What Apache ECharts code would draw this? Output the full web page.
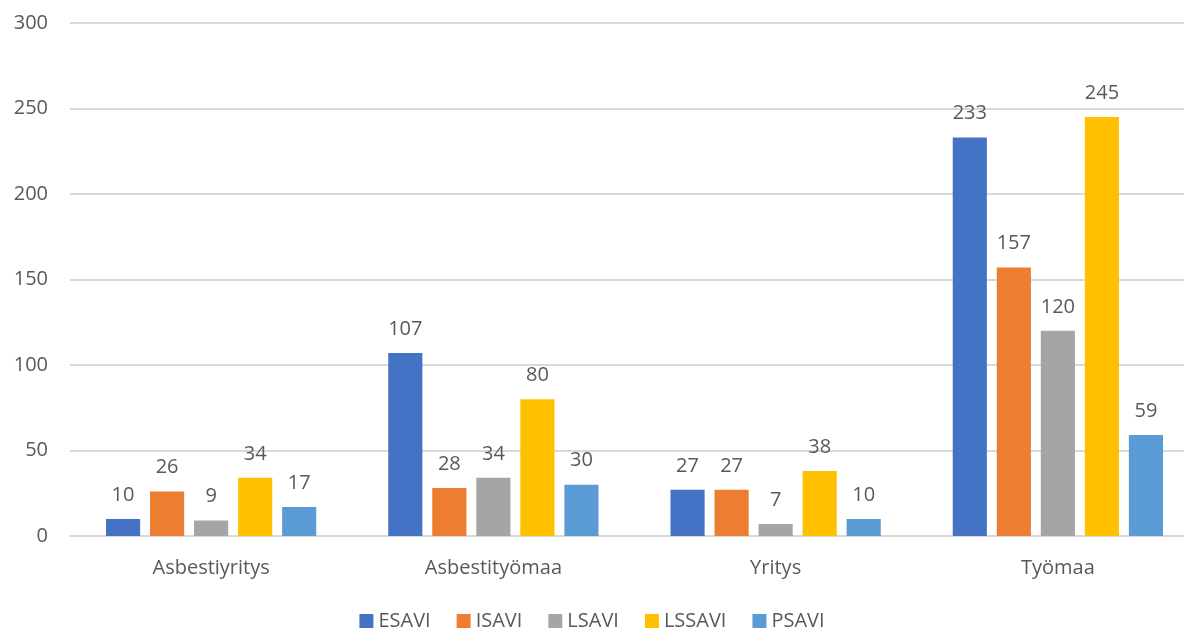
<!DOCTYPE html>
<html>
<head>
<meta charset="UTF-8">
<title>AVI chart</title>
<script src="https://cdn.jsdelivr.net/npm/echarts@6/dist/echarts.min.js"></script>
<style>
  html, body { margin: 0; padding: 0; background: #fff; }
</style>
</head>
<body>
    <div id="main" style="width: 1184px;height:631px;"></div>

    <script type="text/javascript">
        var categories = ['Asbestiyritys', 'Asbestityömaa', 'Yritys', 'Työmaa'];
        var esavi = [10, 107, 27, 233];
        var isavi = [26, 28, 27, 157];
        var lsavi = [9, 34, 7, 120];
        var lssavi = [34, 80, 38, 245];
        var psavi = [17, 30, 10, 59];
        var yTicks = { min: 0, max: 300, interval: 50 };

        var font = 'Open Sans';
        var textColor = '#595959';

        function makeSeries(name, data, color) {
            return {
                name: name,
                type: 'bar',
                data: data,
                barGap: '29%',
                barCategoryGap: '25.5%',
                itemStyle: { color: color },
                label: {
                    show: true,
                    position: 'top',
                    distance: 14,
                    color: textColor,
                    fontSize: 20,
                    fontFamily: font
                }
            };
        }

        var myChart = echarts.init(document.getElementById('main'));
        var option = {
            animation: false,
            grid: {
                left: 70, top: 23, width: 1129, height: 513,
                containLabel: false, outerBoundsMode: 'none'
            },
            legend: {
                top: 606,
                left: 'center',
                itemWidth: 14,
                itemHeight: 14,
                itemGap: 26,
                icon: 'rect',
                textStyle: { color: textColor, fontSize: 20, fontFamily: font },
                data: ['ESAVI', 'ISAVI', 'LSAVI', 'LSSAVI', 'PSAVI']
            },
            xAxis: {
                type: 'category',
                data: categories,
                axisTick: { show: false },
                axisLine: { lineStyle: { color: '#d9d9d9', width: 2 } },
                axisLabel: { color: textColor, fontSize: 20, fontFamily: font, margin: 22 }
            },
            yAxis: {
                type: 'value',
                min: yTicks.min,
                max: yTicks.max,
                interval: yTicks.interval,
                axisLine: { show: false },
                axisTick: { show: false },
                splitLine: { lineStyle: { color: '#d9d9d9', width: 2 } },
                axisLabel: { color: textColor, fontSize: 20, fontFamily: font, margin: 22 }
            },
            series: [
                makeSeries('ESAVI', esavi, '#4472c4'),
                makeSeries('ISAVI', isavi, '#ed7d31'),
                makeSeries('LSAVI', lsavi, '#a5a5a5'),
                makeSeries('LSSAVI', lssavi, '#ffc000'),
                makeSeries('PSAVI', psavi, '#5b9bd5')
            ]
        };
        myChart.setOption(option);
    </script>
</body>
</html>
